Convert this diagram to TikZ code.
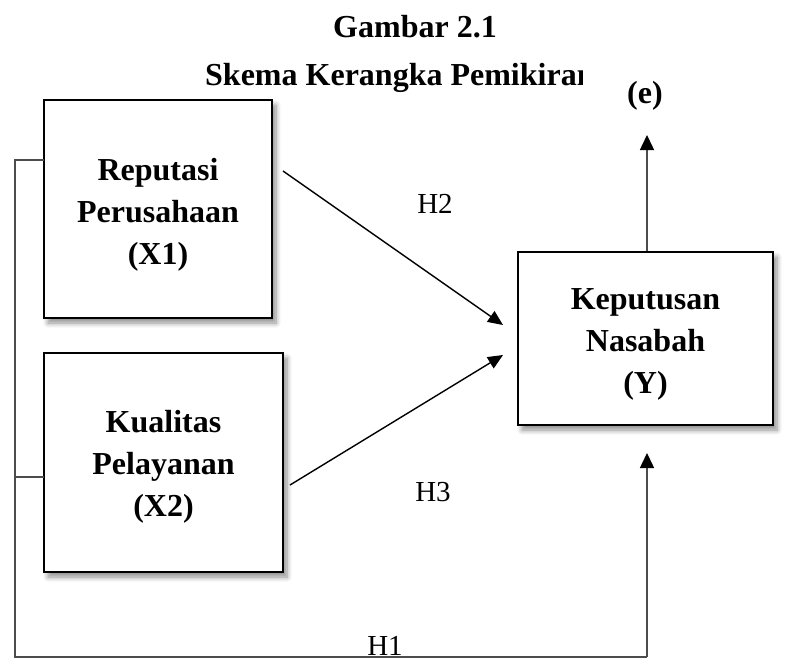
\documentclass[tikz,border=0pt]{standalone}
\usepackage{fontspec}
\setmainfont{Liberation Serif}
\usetikzlibrary{positioning,arrows.meta,shadows.blur}

\newcommand\boxfont{\fontsize{32}{42}\selectfont\bfseries}
\newcommand\hypfont{\fontsize{29}{34}\selectfont}

\tikzset{
  varbox/.style={draw=black, line width=2.7pt, fill=white, inner sep=0pt,
    blur shadow={shadow xshift=4pt, shadow yshift=-5pt, shadow blur steps=8,
      shadow blur radius=5pt, shadow opacity=45}},
  vartext/.style={align=center, font=\boxfont, inner sep=0pt},
  arr/.style={line width=1.4pt, -{Triangle[length=15pt,width=13pt]}},
  link/.style={line width=1.5pt, draw=black!70},
  linkarr/.style={link, -{Triangle[length=15pt,width=14pt,color=black]}},
  hyp/.style={font=\hypfont, inner sep=0pt, anchor=base}
}

\begin{document}
\begin{tikzpicture}[x=1pt, y=-1pt]
\useasboundingbox (0,0) rectangle (798,659);

% judul
\node[font=\boxfont, inner sep=0pt, anchor=base] (judul) at (415,37) {Gambar 2.1};
\begin{scope}
\clip (0,50) rectangle (582,100);
\node[font=\boxfont, inner sep=0pt, anchor=base west] (skema) at (205,85) {Skema Kerangka Pemikiran};
\end{scope}

% variabel
\node[varbox, minimum width=228pt, minimum height=218pt] (x1) at (158,209) {};
\node[vartext] (x1t) at ([yshift=-6pt]x1.center) {Reputasi\\Perusahaan\\(X1)};
\node[varbox, minimum width=239pt, minimum height=219pt] (x2) at (163.5,462.5) {};
\node[vartext] (x2t) at ([yshift=-4pt]x2.center) {Kualitas\\Pelayanan\\(X2)};
\node[varbox, minimum width=255pt, minimum height=173pt] (y) at (645.5,338.5) {};
\node[vartext] (yt) at ([yshift=-6pt]y.center) {Keputusan\\Nasabah\\(Y)};
\node[font=\boxfont, inner sep=0pt, anchor=base] (e) at (645,103) {(e)};

% titik bantu
\coordinate (h2s) at (283,171);
\coordinate (h2e) at (503,325);
\coordinate (h3s) at (290,485);
\coordinate (h3e) at (503,355);
\coordinate (x1l) at (44,160);
\coordinate (x2l) at (44,477);
\coordinate (lt) at (15,160);
\coordinate (lb) at (15,657);
\coordinate (rb) at (647,657);
\coordinate (ytip) at (647,453);
\coordinate (etip) at (647,135);

% panah
\draw[arr] (h2s) -- (h2e);
\draw[arr] (h3s) -- (h3e);
\draw[link] (x1l) -- (lt) -- (lb) -- (rb);
\draw[link] (x2l) -- (x2l -| lt);
\draw[linkarr] (rb) -- (ytip);
\draw[linkarr] (y.north -| etip) -- (etip);

% hipotesis
\node[hyp] (h2) at (435,213) {H2};
\node[hyp] (h3) at (433,501) {H3};
\node[hyp] (h1) at (385,655) {H1};
\end{tikzpicture}
\end{document}
